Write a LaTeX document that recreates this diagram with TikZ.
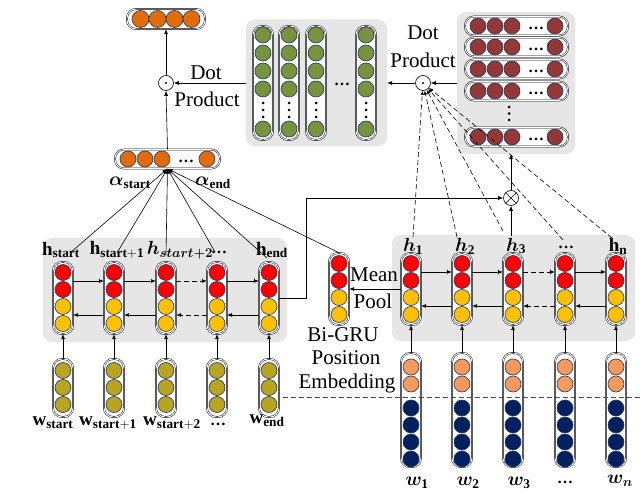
\documentclass[tikz,border=0pt]{standalone}
\usepackage{fix-cm}
\usepackage{amsmath,bm}
\usepackage{fontspec}
\setmainfont{Liberation Serif}
\usetikzlibrary{arrows.meta}
\definecolor{cOrange}{HTML}{E36C0A}
\definecolor{cGreen}{HTML}{77933C}
\definecolor{cDRed}{HTML}{953735}
\definecolor{cRed}{HTML}{FF0000}
\definecolor{cYellow}{HTML}{FFC000}
\definecolor{cOlive}{HTML}{B8A41E}
\definecolor{cLOrange}{HTML}{F59A5A}
\definecolor{cNavy}{HTML}{002060}
\definecolor{cBorder}{HTML}{203864}
\definecolor{cGray}{HTML}{E6E6E6}
\tikzset{
  capsule/.style={draw=black, double=white, double distance=0.9pt, line width=0.45pt, fill=white, rounded corners=9pt, inner sep=0pt},
  dotc/.style={circle, draw=cBorder, line width=0.6pt, minimum size=16pt, inner sep=0pt},
  graybox/.style={fill=cGray, rounded corners=9pt, inner sep=0pt},
  arr/.style={-{Latex[length=5pt,width=4pt]}, line width=0.6pt},
  longdash/.style={dash pattern=on 5pt off 3pt},
  txt/.style={font=\fontsize{21}{24}\selectfont, inner sep=0pt},
  lab/.style={font=\fontsize{19}{21}\selectfont, inner sep=0pt},
  opc/.style={circle, draw, fill=white, minimum size=15pt, inner sep=0pt, line width=0.6pt},
  bdots/.style={font=\bfseries\fontsize{16}{16}\selectfont, inner sep=0pt},
}
\begin{document}
\begin{tikzpicture}[x=1pt,y=-1pt]
\useasboundingbox (0,0) rectangle (642,494);

% ---------- gray boxes ----------
\node[graybox, minimum width=141, minimum height=127] (gbox) at (316.5,83) {};
\node[graybox, minimum width=118, minimum height=142] (rbox) at (516,83) {};
\node[graybox, minimum width=244, minimum height=104] (lbox) at (165,290) {};
\node[graybox, minimum width=243, minimum height=106] (rgbox) at (513.5,288) {};

% ---------- top output ----------
\node[capsule, minimum width=78, minimum height=20] (out) at (166,19) {};
\foreach \k/\x in {1/140.5,2/157.5,3/174.5,4/191.5}
  \node[dotc, fill=cOrange, minimum size=17pt] (out\k) at (\x,19) {};

\node[opc] (dot1) at (166,83) {};
\fill (dot1.center) circle (1.1pt);
\node[txt] (dotA) at (206,73) {Dot};
\node[txt] (prodA) at (207,99) {Product};

% ---------- alpha ----------
\node[capsule, minimum width=105, minimum height=19] (alpha) at (167.5,159) {};
\foreach \k/\x in {1/128,2/145,3/162,4/207}
  \node[dotc, fill=cOrange] (al\k) at (\x,159) {};
\node[bdots] (aldots) at (186,161) {…};
\node[lab] (alS) at (130,183) {$\bm{\alpha}_{\mathbf{start}}$};
\node[lab] (alE) at (213,183) {$\bm{\alpha}_{\mathbf{end}}$};

% ---------- green matrix ----------
\foreach \k/\x in {1/263,2/289,3/316,4/366}{
  \node[capsule, minimum width=20, minimum height=114] (gc\k) at (\x,83) {};
  \foreach \j/\y in {1/35,2/53,3/71,4/89,5/129}
    \node[dotc, fill=cGreen] (gc\k-\j) at (\x,\y) {};
  \foreach \y in {103,110,117}
    \fill (\x,\y) circle (1.5pt);
}
\node[bdots] (gdots) at (342,84) {…};

% ---------- dark red matrix ----------
\foreach \k/\y in {1/26,2/47,3/69,4/91,5/137}{
  \node[capsule, minimum width=103, minimum height=19] (rr\k) at (516.5,\y) {};
  \foreach \j/\x in {1/478,2/495,3/512,4/555}
    \node[dotc, fill=cDRed] (rr\k-\j) at (\x,\y) {};
  \node[bdots] (rd\k) at (536,\y+2) {…};
}
\foreach \y in {107,113.5,120}
  \fill (509,\y) circle (1.5pt);

\node[opc] (dot2) at (423,83) {};
\fill (dot2.center) circle (1.1pt);
\node[txt] (dotB) at (423,33) {Dot};
\node[txt] (prodB) at (423,60) {Product};

\draw[arr] (rbox.west) -- (dot2.east);
\draw[arr] (dot2.west) -- (gbox.east);
\draw[arr] (gbox.west) -- (dot1.east);
\draw[arr] (alpha.north) -- (dot1.south);
\draw[arr] (dot1.north) -- (out.south);

% ---------- left Bi-GRU ----------
\foreach \k/\x in {1/63,2/114,3/166,4/217,5/269}{
  \node[capsule, minimum width=20, minimum height=72] (hl\k) at (\x,298) {};
  \node[dotc, fill=cRed] (hl\k-1) at (\x,272.5) {};
  \node[dotc, fill=cRed] (hl\k-2) at (\x,289.5) {};
  \node[dotc, fill=cYellow] (hl\k-3) at (\x,306.5) {};
  \node[dotc, fill=cYellow] (hl\k-4) at (\x,323.5) {};
}
\foreach \a/\b in {1/2,2/3,4/5}{
  \draw[arr] ([yshift=17pt]hl\a.east) -- ([yshift=17pt]hl\b.west);
  \draw[arr] ([yshift=-17pt]hl\b.west) -- ([yshift=-17pt]hl\a.east);
}
\draw[arr, longdash] ([yshift=17pt]hl3.east) -- ([yshift=17pt]hl4.west);
\draw[arr, longdash] ([yshift=-17pt]hl4.west) -- ([yshift=-17pt]hl3.east);

\node[lab] (lh1) at (61,250) {$\mathbf{h}_{\mathbf{start}}$};
\node[lab] (lh2) at (117,250) {$\mathbf{h}_{\mathbf{start+1}}$};
\node[bdots] (lh4) at (219,252) {…};
\node[lab] (lh3) at (180,250) {$\bm{h}_{\bm{start+2}}$};
\node[lab] (lh5) at (272,250) {$\mathbf{h}_{\mathbf{end}}$};

% ---------- left word embeddings ----------
\foreach \k/\x in {1/63,2/114,3/166,4/217,5/269}{
  \node[capsule, minimum width=20, minimum height=58] (wl\k) at (\x,388) {};
  \foreach \j/\y in {1/370.5,2/387.5,3/404.5}
    \node[dotc, fill=cOlive] (wl\k-\j) at (\x,\y) {};
  \draw[arr] (wl\k.north) -- (hl\k.south);
}
\node[lab] (lw1) at (53,423) {$\mathbf{w}_{\mathbf{start}}$};
\node[lab] (lw2) at (108,423) {$\mathbf{w}_{\mathbf{start+1}}$};
\node[lab] (lw3) at (172,423) {$\mathbf{w}_{\mathbf{start+2}}$};
\node[bdots] (lw4) at (218,424) {…};
\node[lab] (lw5) at (267,421) {$\mathbf{w}_{\mathbf{end}}$};

% ---------- right Bi-GRU ----------
\foreach \k/\x in {1/411,2/462,3/513,4/565,5/616}{
  \node[capsule, minimum width=20, minimum height=72] (hr\k) at (\x,289) {};
  \node[dotc, fill=cRed] (hr\k-1) at (\x,263.5) {};
  \node[dotc, fill=cRed] (hr\k-2) at (\x,280.5) {};
  \node[dotc, fill=cYellow] (hr\k-3) at (\x,297.5) {};
  \node[dotc, fill=cYellow] (hr\k-4) at (\x,314.5) {};
}
\foreach \a/\b in {1/2,2/3,4/5}{
  \draw[arr] ([yshift=17pt]hr\a.east) -- ([yshift=17pt]hr\b.west);
  \draw[arr] ([yshift=-17pt]hr\b.west) -- ([yshift=-17pt]hr\a.east);
}
\draw[arr, longdash] ([yshift=17pt]hr3.east) -- ([yshift=17pt]hr4.west);
\draw[arr, longdash] ([yshift=-17pt]hr4.west) -- ([yshift=-17pt]hr3.east);

\node[lab] (rh1) at (413,246) {$\bm{h}_{\mathbf{1}}$};
\node[lab] (rh2) at (465,246) {$\bm{h}_{\mathbf{2}}$};
\node[lab] (rh3) at (516,246) {$\bm{h}_{\mathbf{3}}$};
\node[bdots] (rh4) at (566,247) {…};
\node[lab] (rh5) at (618,246) {$\mathbf{h}_{\mathbf{n}}$};

% ---------- mean pool ----------
\node[capsule, minimum width=20, minimum height=72] (mp) at (339,289) {};
\node[dotc, fill=cRed] (mp1) at (339,263.5) {};
\node[dotc, fill=cRed] (mp2) at (339,280.5) {};
\node[dotc, fill=cYellow] (mp3) at (339,297.5) {};
\node[dotc, fill=cYellow] (mp4) at (339,314.5) {};
\draw[arr] (hr1.west) -- (mp.east);
\node[txt] (meanT) at (374,275) {Mean};
\node[txt] (poolT) at (373,301) {Pool};

% ---------- right word + position embeddings ----------
\foreach \k/\x in {1/411,2/462,3/513,4/565,5/616}{
  \node[capsule, minimum width=20, minimum height=114] (wr\k) at (\x,410) {};
  \foreach \j/\y in {1/367,2/384}
    \node[dotc, fill=cLOrange] (wrp\k-\j) at (\x,\y) {};
  \foreach \j/\y in {1/408,2/425,3/442,4/459}
    \node[dotc, fill=cNavy] (wrn\k-\j) at (\x,\y) {};
  \draw[arr] (wr\k.north) -- (hr\k.south);
}
\node[lab] (rw1) at (417,483) {$\bm{w}_{\mathbf{1}}$};
\node[lab] (rw2) at (468,483) {$\bm{w}_{\mathbf{2}}$};
\node[lab] (rw3) at (519,483) {$\bm{w}_{\mathbf{3}}$};
\node[bdots] (rw4) at (565,482) {…};
\node[lab] (rw5) at (620,481) {$\bm{w}_{\bm{n}}$};

\node[txt] (bigru) at (343,335) {Bi-GRU};
\node[txt] (posT) at (346,358) {Position};
\node[txt] (embT) at (347,383) {Embedding};

\coordinate (el) at (283,397);
\coordinate (er) at (641,397);
\draw[longdash, line width=0.6pt, black!70] (el) -- (er);

% ---------- otimes ----------
\node[opc] (otm) at (511,198) {};
\draw[line width=0.6pt] (otm.north west) -- (otm.south east) (otm.north east) -- (otm.south west);
\coordinate (bend) at (306,298);
\draw[arr] (hl5.east |- bend) -- (bend) |- (otm.west);
\coordinate (h3top) at (511,236);
\draw[arr] (h3top) -- (otm.south);
\draw[arr] (otm.north) -- (otm.north |- rbox.south);

% ---------- attention lines to alpha ----------
\coordinate (a1) at (70,253);
\coordinate (a2) at (117,253);
\coordinate (a3) at (166,255);
\coordinate (a4) at (215,252);
\coordinate (a5) at (267,258);
\foreach \c in {a1,a2,a3,a4,a5}
  \draw[arr] (\c) -- (alpha.south);
\draw[arr] (mp.north) -- (alpha.south);

% ---------- dashed lines to dot2 ----------
\coordinate (d1) at (413,237);
\coordinate (d2) at (457,237);
\coordinate (d3) at (503,231);
\coordinate (d4) at (563,240);
\coordinate (d5) at (612,238);
\foreach \c in {d1,d2,d3,d4,d5}
  \draw[-{Latex[length=4pt,width=3.5pt]}, line width=0.6pt, longdash] (\c) -- (dot2);
\end{tikzpicture}
\end{document}
